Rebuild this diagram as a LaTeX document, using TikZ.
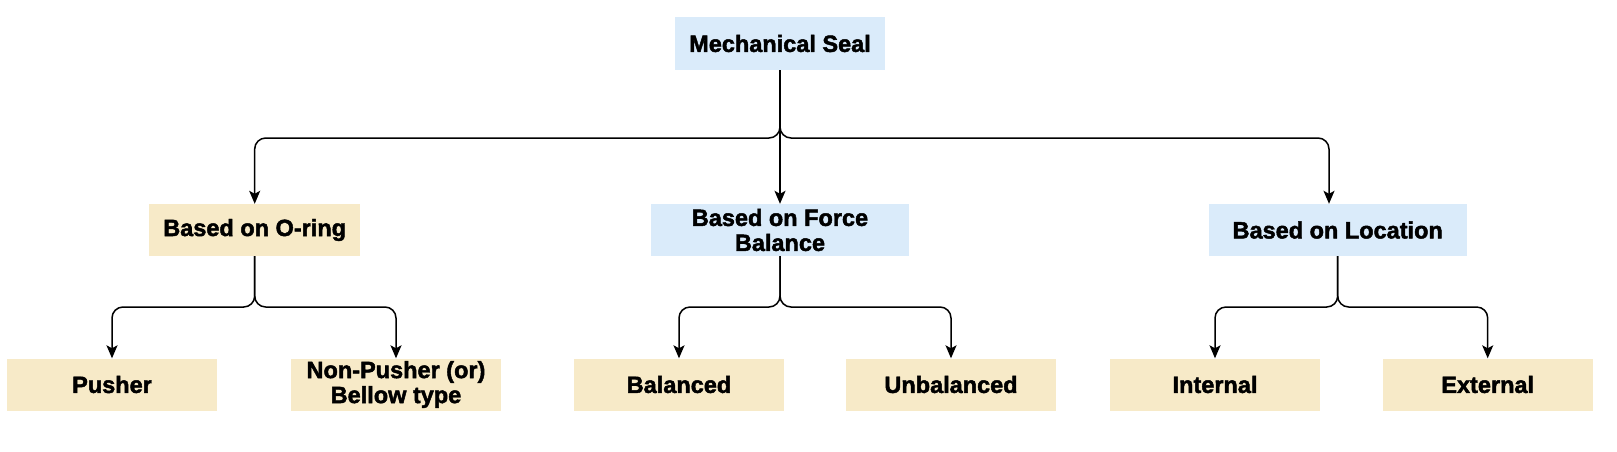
\documentclass[tikz,border=0pt]{standalone}
\usepackage{fontspec}
\setmainfont{Liberation Sans}[BoldFeatures={FakeBold=2}]
\usetikzlibrary{arrows.meta}
\definecolor{bluebox}{RGB}{218,235,250}
\definecolor{tanbox}{RGB}{247,234,200}
\tikzset{
  box/.style={rectangle, inner sep=0pt, minimum height=52pt, align=center,
    font=\fontsize{23.5}{25}\selectfont\bfseries, text=black},
  bluenode/.style={box, fill=bluebox},
  tannode/.style={box, fill=tanbox},
  conn/.style={line width=1.5pt, rounded corners=11pt,
    -{Stealth[length=13pt,width=11pt,inset=3pt]}},
}
\begin{document}
\begin{tikzpicture}[x=1pt,y=-1pt]
\useasboundingbox (0,0) rectangle (1617,451);
\node[bluenode, minimum width=210pt, minimum height=53pt] (ms) at (780,43.5) {Mechanical Seal};
\node[tannode, minimum width=211pt] (oring) at (254.7,230) {Based on O-ring};
\node[bluenode, minimum width=258pt] (force) at (780,230) {Based on Force\\Balance};
\node[bluenode, minimum width=258pt] (loc) at (1337.7,230) {Based on Location};
\node[tannode, minimum width=210pt] (pusher) at (112,384.5) {Pusher};
\node[tannode, minimum width=210pt] (nonpusher) at (396,384.5) {Non-Pusher (or)\\Bellow type};
\node[tannode, minimum width=210pt] (balanced) at (679,384.5) {Balanced};
\node[tannode, minimum width=210pt] (unbalanced) at (951,384.5) {Unbalanced};
\node[tannode, minimum width=210pt] (internal) at (1215,384.5) {Internal};
\node[tannode, minimum width=210pt] (external) at (1487.7,384.5) {External};

\coordinate (j1) at (780,138);
\coordinate (j2) at (254.7,307);
\coordinate (j3) at (780,307);
\coordinate (j4) at (1337.7,307);

\draw[conn] (ms.south) -- (j1) -| (oring.north);
\draw[conn] (ms.south) -- (force.north);
\draw[conn] (ms.south) -- (j1) -| ([xshift=-8.7pt]loc.north);

\draw[conn] (oring.south) -- (j2) -| (pusher.north);
\draw[conn] (oring.south) -- (j2) -| (nonpusher.north);
\draw[conn] (force.south) -- (j3) -| (balanced.north);
\draw[conn] (force.south) -- (j3) -| (unbalanced.north);
\draw[conn] (loc.south) -- (j4) -| (internal.north);
\draw[conn] (loc.south) -- (j4) -| (external.north);
\end{tikzpicture}
\end{document}
